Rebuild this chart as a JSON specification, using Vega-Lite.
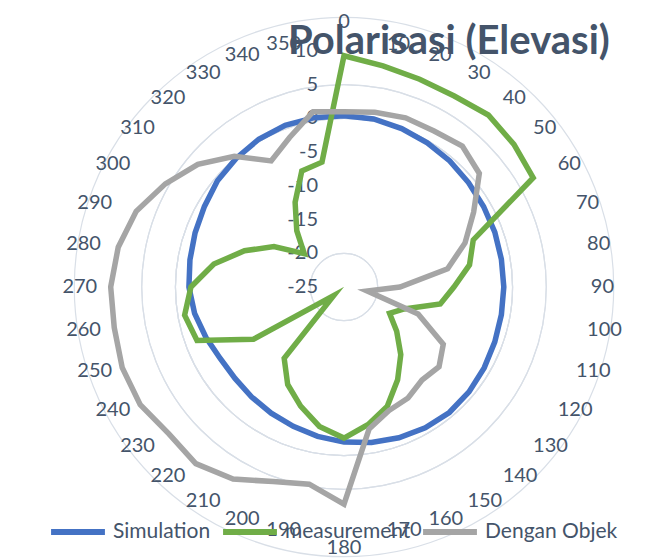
{
  "$schema": "https://vega.github.io/schema/vega-lite/v6.json",
  "width": 472,
  "height": 472,
  "autosize": {"type": "none"},
  "padding": {"left": 108, "top": 51, "right": 69, "bottom": 37},
  "background": "white",
  "config": {"view": {"stroke": null}, "font": "Lato"},
  "title": {
    "text": "Polarisasi (Elevasi)",
    "font": "Lato",
    "fontSize": 40,
    "fontWeight": "bold",
    "color": "#44546A",
    "anchor": "start",
    "frame": "group",
    "baseline": "alphabetic",
    "offset": 0,
    "dx": 180,
    "dy": 82
  },
  "datasets": {
    "series": [
      {"name": "Simulation", "angle": 0, "value": 0.4},
      {"name": "Simulation", "angle": 10, "value": 0.3},
      {"name": "Simulation", "angle": 20, "value": 0.0},
      {"name": "Simulation", "angle": 30, "value": -0.3},
      {"name": "Simulation", "angle": 40, "value": -0.6},
      {"name": "Simulation", "angle": 50, "value": -0.9},
      {"name": "Simulation", "angle": 60, "value": -1.1},
      {"name": "Simulation", "angle": 70, "value": -1.2},
      {"name": "Simulation", "angle": 80, "value": -1.3},
      {"name": "Simulation", "angle": 90, "value": -1.3},
      {"name": "Simulation", "angle": 100, "value": -1.3},
      {"name": "Simulation", "angle": 110, "value": -1.2},
      {"name": "Simulation", "angle": 120, "value": -1.0},
      {"name": "Simulation", "angle": 130, "value": -0.8},
      {"name": "Simulation", "angle": 140, "value": -0.7},
      {"name": "Simulation", "angle": 150, "value": -0.9},
      {"name": "Simulation", "angle": 160, "value": -1.2},
      {"name": "Simulation", "angle": 170, "value": -1.6},
      {"name": "Simulation", "angle": 180, "value": -2.0},
      {"name": "Simulation", "angle": 190, "value": -2.5},
      {"name": "Simulation", "angle": 200, "value": -3.0},
      {"name": "Simulation", "angle": 210, "value": -3.4},
      {"name": "Simulation", "angle": 220, "value": -3.7},
      {"name": "Simulation", "angle": 230, "value": -3.9},
      {"name": "Simulation", "angle": 240, "value": -3.8},
      {"name": "Simulation", "angle": 250, "value": -3.2},
      {"name": "Simulation", "angle": 260, "value": -2.5},
      {"name": "Simulation", "angle": 270, "value": -2.0},
      {"name": "Simulation", "angle": 280, "value": -1.8},
      {"name": "Simulation", "angle": 290, "value": -1.5},
      {"name": "Simulation", "angle": 300, "value": -1.1},
      {"name": "Simulation", "angle": 310, "value": -0.5},
      {"name": "Simulation", "angle": 320, "value": -0.1},
      {"name": "Simulation", "angle": 330, "value": 0.3},
      {"name": "Simulation", "angle": 340, "value": 0.5},
      {"name": "Simulation", "angle": 350, "value": 0.5},
      {"name": "measurement", "angle": 0, "value": 9.3},
      {"name": "measurement", "angle": 10, "value": 8.3},
      {"name": "measurement", "angle": 20, "value": 7.8},
      {"name": "measurement", "angle": 30, "value": 7.7},
      {"name": "measurement", "angle": 40, "value": 8.3},
      {"name": "measurement", "angle": 50, "value": 7.9},
      {"name": "measurement", "angle": 60, "value": 7.4},
      {"name": "measurement", "angle": 70, "value": -4.6},
      {"name": "measurement", "angle": 80, "value": -6.1},
      {"name": "measurement", "angle": 90, "value": -8.7},
      {"name": "measurement", "angle": 100, "value": -10.5},
      {"name": "measurement", "angle": 110, "value": -15.5},
      {"name": "measurement", "angle": 120, "value": -17.2},
      {"name": "measurement", "angle": 130, "value": -14.8},
      {"name": "measurement", "angle": 140, "value": -11.9},
      {"name": "measurement", "angle": 150, "value": -9.1},
      {"name": "measurement", "angle": 160, "value": -6.2},
      {"name": "measurement", "angle": 170, "value": -4.3},
      {"name": "measurement", "angle": 180, "value": -2.6},
      {"name": "measurement", "angle": 190, "value": -4.0},
      {"name": "measurement", "angle": 200, "value": -6.2},
      {"name": "measurement", "angle": 210, "value": -8.3},
      {"name": "measurement", "angle": 220, "value": -11.2},
      {"name": "measurement", "angle": 230, "value": -23.0},
      {"name": "measurement", "angle": 240, "value": -9.5},
      {"name": "measurement", "angle": 250, "value": -1.8},
      {"name": "measurement", "angle": 260, "value": -1.0},
      {"name": "measurement", "angle": 270, "value": -2.3},
      {"name": "measurement", "angle": 280, "value": -5.4},
      {"name": "measurement", "angle": 290, "value": -9.3},
      {"name": "measurement", "angle": 300, "value": -13.0},
      {"name": "measurement", "angle": 310, "value": -17.3},
      {"name": "measurement", "angle": 320, "value": -14.1},
      {"name": "measurement", "angle": 330, "value": -10.5},
      {"name": "measurement", "angle": 340, "value": -6.7},
      {"name": "measurement", "angle": 350, "value": -6.2},
      {"name": "Dengan Objek", "angle": 0, "value": 1.0},
      {"name": "Dengan Objek", "angle": 10, "value": 1.3},
      {"name": "Dengan Objek", "angle": 20, "value": 1.7},
      {"name": "Dengan Objek", "angle": 30, "value": 1.7},
      {"name": "Dengan Objek", "angle": 40, "value": 2.3},
      {"name": "Dengan Objek", "angle": 50, "value": 1.2},
      {"name": "Dengan Objek", "angle": 60, "value": -2.8},
      {"name": "Dengan Objek", "angle": 70, "value": -5.9},
      {"name": "Dengan Objek", "angle": 80, "value": -9.4},
      {"name": "Dengan Objek", "angle": 90, "value": -16.7},
      {"name": "Dengan Objek", "angle": 100, "value": -21.5},
      {"name": "Dengan Objek", "angle": 110, "value": -13.3},
      {"name": "Dengan Objek", "angle": 120, "value": -8.0},
      {"name": "Dengan Objek", "angle": 130, "value": -6.6},
      {"name": "Dengan Objek", "angle": 140, "value": -7.0},
      {"name": "Dengan Objek", "angle": 150, "value": -6.0},
      {"name": "Dengan Objek", "angle": 160, "value": -5.5},
      {"name": "Dengan Objek", "angle": 170, "value": -3.6},
      {"name": "Dengan Objek", "angle": 180, "value": 7.2},
      {"name": "Dengan Objek", "angle": 190, "value": 4.7},
      {"name": "Dengan Objek", "angle": 200, "value": 5.7},
      {"name": "Dengan Objek", "angle": 210, "value": 7.9},
      {"name": "Dengan Objek", "angle": 220, "value": 9.2},
      {"name": "Dengan Objek", "angle": 230, "value": 8.9},
      {"name": "Dengan Objek", "angle": 240, "value": 9.9},
      {"name": "Dengan Objek", "angle": 250, "value": 10.0},
      {"name": "Dengan Objek", "angle": 260, "value": 9.6},
      {"name": "Dengan Objek", "angle": 270, "value": 9.6},
      {"name": "Dengan Objek", "angle": 280, "value": 9.0},
      {"name": "Dengan Objek", "angle": 290, "value": 7.8},
      {"name": "Dengan Objek", "angle": 300, "value": 5.6},
      {"name": "Dengan Objek", "angle": 310, "value": 3.3},
      {"name": "Dengan Objek", "angle": 320, "value": 0.3},
      {"name": "Dengan Objek", "angle": 330, "value": -3.4},
      {"name": "Dengan Objek", "angle": 340, "value": -1.4},
      {"name": "Dengan Objek", "angle": 350, "value": 1.4}
    ],
    "levels": [
      {"level": -25}, {"level": -20}, {"level": -15}, {"level": -10},
      {"level": -5}, {"level": 0}, {"level": 5}, {"level": 10}
    ],
    "angles": [
      {"angle": 0}, {"angle": 10}, {"angle": 20}, {"angle": 30}, {"angle": 40}, {"angle": 50},
      {"angle": 60}, {"angle": 70}, {"angle": 80}, {"angle": 90}, {"angle": 100}, {"angle": 110},
      {"angle": 120}, {"angle": 130}, {"angle": 140}, {"angle": 150}, {"angle": 160}, {"angle": 170},
      {"angle": 180}, {"angle": 190}, {"angle": 200}, {"angle": 210}, {"angle": 220}, {"angle": 230},
      {"angle": 240}, {"angle": 250}, {"angle": 260}, {"angle": 270}, {"angle": 280}, {"angle": 290},
      {"angle": 300}, {"angle": 310}, {"angle": 320}, {"angle": 330}, {"angle": 340}, {"angle": 350}
    ]
  },
  "layer": [
    {
      "data": {"name": "levels"},
      "transform": [{"filter": "datum.level > -25"}],
      "mark": {"type": "arc", "theta": 0, "theta2": 6.2832, "fillOpacity": 0, "stroke": "#D9DFE7", "strokeWidth": 1.2},
      "encoding": {
        "radius": {"field": "level", "type": "quantitative", "scale": {"type": "linear", "domain": [-25, 10], "range": [0, 236], "zero": false, "nice": false}, "legend": null}
      }
    },
    {
      "data": {"name": "levels"},
      "transform": [
        {"calculate": "datum.level + 25", "as": "r"},
        {"calculate": "'' + datum.level", "as": "label"}
      ],
      "mark": {"type": "text", "align": "right", "baseline": "middle", "dx": -26, "fontSize": 20, "color": "#44546A"},
      "encoding": {
        "x": {"datum": 0, "type": "quantitative", "scale": {"domain": [-35, 35], "nice": false, "zero": false}, "axis": null},
        "y": {"field": "r", "type": "quantitative", "scale": {"domain": [-35, 35], "nice": false, "zero": false}, "axis": null},
        "text": {"field": "label", "type": "nominal"}
      }
    },
    {
      "data": {"name": "angles"},
      "transform": [
        {"filter": "datum.angle > 0 && datum.angle < 180"},
        {"calculate": "36.6 * sin(datum.angle * PI / 180)", "as": "px"},
        {"calculate": "36.6 * cos(datum.angle * PI / 180)", "as": "py"}
      ],
      "mark": {"type": "text", "align": "left", "baseline": "middle", "fontSize": 20, "color": "#44546A"},
      "encoding": {
        "x": {"field": "px", "type": "quantitative", "scale": {"domain": [-35, 35], "nice": false, "zero": false}, "axis": null},
        "y": {"field": "py", "type": "quantitative", "scale": {"domain": [-35, 35], "nice": false, "zero": false}, "axis": null},
        "text": {"field": "angle", "type": "quantitative", "format": "d"}
      }
    },
    {
      "data": {"name": "angles"},
      "transform": [
        {"filter": "datum.angle > 180"},
        {"calculate": "36.6 * sin(datum.angle * PI / 180)", "as": "px"},
        {"calculate": "36.6 * cos(datum.angle * PI / 180)", "as": "py"}
      ],
      "mark": {"type": "text", "align": "right", "baseline": "middle", "fontSize": 20, "color": "#44546A"},
      "encoding": {
        "x": {"field": "px", "type": "quantitative", "scale": {"domain": [-35, 35], "nice": false, "zero": false}, "axis": null},
        "y": {"field": "py", "type": "quantitative", "scale": {"domain": [-35, 35], "nice": false, "zero": false}, "axis": null},
        "text": {"field": "angle", "type": "quantitative", "format": "d"}
      }
    },
    {
      "data": {"name": "angles"},
      "transform": [
        {"filter": "datum.angle == 0"},
        {"calculate": "0", "as": "px"},
        {"calculate": "38.4", "as": "py"}
      ],
      "mark": {"type": "text", "align": "center", "baseline": "alphabetic", "fontSize": 20, "color": "#44546A"},
      "encoding": {
        "x": {"field": "px", "type": "quantitative", "scale": {"domain": [-35, 35], "nice": false, "zero": false}, "axis": null},
        "y": {"field": "py", "type": "quantitative", "scale": {"domain": [-35, 35], "nice": false, "zero": false}, "axis": null},
        "text": {"field": "angle", "type": "quantitative", "format": "d"}
      }
    },
    {
      "data": {"name": "angles"},
      "transform": [
        {"filter": "datum.angle == 180"},
        {"calculate": "0", "as": "px"},
        {"calculate": "-37.2", "as": "py"}
      ],
      "mark": {"type": "text", "align": "center", "baseline": "top", "fontSize": 20, "color": "#44546A"},
      "encoding": {
        "x": {"field": "px", "type": "quantitative", "scale": {"domain": [-35, 35], "nice": false, "zero": false}, "axis": null},
        "y": {"field": "py", "type": "quantitative", "scale": {"domain": [-35, 35], "nice": false, "zero": false}, "axis": null},
        "text": {"field": "angle", "type": "quantitative", "format": "d"}
      }
    },
    {
      "data": {"name": "series"},
      "transform": [
        {"calculate": "max(datum.value + 25, 0)", "as": "r"},
        {"calculate": "datum.r * sin(datum.angle * PI / 180)", "as": "px"},
        {"calculate": "datum.r * cos(datum.angle * PI / 180)", "as": "py"}
      ],
      "mark": {"type": "line", "interpolate": "linear-closed", "strokeWidth": 5.5, "strokeJoin": "miter", "strokeMiterLimit": 10},
      "encoding": {
        "x": {"field": "px", "type": "quantitative", "scale": {"domain": [-35, 35], "nice": false, "zero": false}, "axis": null},
        "y": {"field": "py", "type": "quantitative", "scale": {"domain": [-35, 35], "nice": false, "zero": false}, "axis": null},
        "order": {"field": "angle", "type": "quantitative"},
        "color": {
          "field": "name",
          "type": "nominal",
          "scale": {"domain": ["Simulation", "measurement", "Dengan Objek"], "range": ["#4472C4", "#70AD47", "#A5A5A5"]},
          "legend": {
            "title": null,
            "orient": "none",
            "direction": "horizontal",
            "legendX": -60,
            "legendY": 451,
            "symbolType": "stroke",
            "symbolSize": 2900,
            "symbolStrokeWidth": 6,
            "labelFontSize": 21,
            "labelColor": "#44546A",
            "labelFont": "Lato",
            "labelOffset": 5,
            "columnPadding": 0,
            "labelLimit": 300
          }
        }
      }
    }
  ]
}
